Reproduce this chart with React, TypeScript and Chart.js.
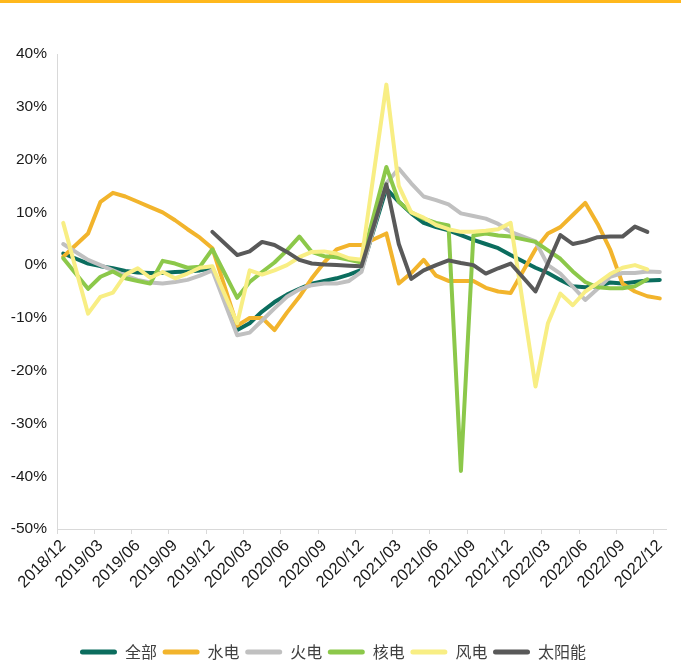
import React, { useEffect, useRef } from 'react';
import { Chart, registerables } from 'chart.js';

Chart.register(...registerables);

const months = [
  '2018/12', '2019/01', '2019/02', '2019/03', '2019/04', '2019/05', '2019/06', '2019/07', '2019/08', '2019/09', '2019/10', '2019/11',
  '2019/12', '2020/01', '2020/02', '2020/03', '2020/04', '2020/05', '2020/06', '2020/07', '2020/08', '2020/09', '2020/10', '2020/11',
  '2020/12', '2021/01', '2021/02', '2021/03', '2021/04', '2021/05', '2021/06', '2021/07', '2021/08', '2021/09', '2021/10', '2021/11',
  '2021/12', '2022/01', '2022/02', '2022/03', '2022/04', '2022/05', '2022/06', '2022/07', '2022/08', '2022/09', '2022/10', '2022/11',
  '2022/12',
];

// growth rates (%), null = month not published (Jan merged into Feb)
const total = [2.2, null, 0.3, -0.2, -0.6, -1.1, -1.4, -1.5, -1.5, -1.3, -1.2, -1.0, -0.6, null, -12.3, -11, -8.8, -7, -5.6, -4.5, -3.5, -3.0, -2.5, -1.8, -0.9, null, 14.5, 12, 9.8, 8, 7.2, 6.6, 5.7, 4.8, 4.0, 3.2, 1.9, null, -0.5, -1.5, -2.8, -4.0, -4.2, -4.0, -3.3, -3.5, -3.2, -2.9, -2.8];
const hydro = [1.6, null, 6, 12, 13.7, 13, 12, 11, 10, 8.5, 6.8, 5.2, 3.2, null, -11.5, -10, -10, -12.3, -9, -6, -2.5, 0.5, 3, 3.8, 3.8, null, 6, -3.5, -1.5, 1, -2, -3, -3, -3, -4.3, -5, -5.3, null, 3, 6, 7.2, 9.5, 11.8, 7.8, 3, -3.5, -5, -5.9, -6.3];
const thermal = [4, null, 1, 0, -1, -2, -2.8, -3.3, -3.5, -3.2, -2.8, -2, -1, null, -13.3, -12.8, -10.5, -8.2, -6, -4.6, -3.8, -3.5, -3.5, -3, -1.3, null, 15.5, 18.3, 15.5, 13, 12.3, 11.5, 9.8, 9.3, 8.8, 7.8, 6.3, null, 4.5, 0, -1.6, -4.1, -6.6, -4.5, -2.2, -1.5, -1.5, -1.2, -1.3];
const nuclear = [1.3, null, -4.5, -2.2, -1.2, -2.5, -3.0, -3.5, 0.8, 0.3, -0.5, -0.3, 3, null, -6.2, -3.2, -1.3, 0.5, 2.8, 5.4, 2.5, 1.7, 1.5, 1.0, 0.5, null, 18.6, 12, 10, 8.8, 8, 7.5, -39, 5.6, 6, 5.6, 5.4, null, 4.4, 2.8, 1.2, -1.2, -3.2, -4.2, -4.4, -4.4, -4, -2.7, null];
const wind = [8, null, -9.2, -6, -5.2, -1.8, -0.6, -2.4, -1.3, -2.5, -1.6, -0.5, -0.2, null, -11, -1, -1.8, -1, 0, 1.5, 2.5, 2.6, 2.2, 1.3, 1.0, null, 34.2, 15, 10, 9, 7.6, 6.8, 6.3, 6.3, 6.5, 6.8, 8, null, -23, -11, -5.4, -7.6, -5, -3.4, -1.7, -0.5, 0, -0.8, null];
const solar = [null, null, null, null, null, null, null, null, null, null, null, null, 6.3, null, 1.9, 2.6, 4.4, 3.8, 2.5, 1.0, 0.3, 0.1, 0, -0.1, -0.2, null, 15.3, 4, -2.6, -1, 0, 0.9, 0.4, 0, -1.6, -0.6, 0.3, null, -5, 0.3, 5.7, 4, 4.5, 5.3, 5.4, 5.4, 7.3, 6.3, null];

const seriesNames = ['全部', '水电', '火电', '核电', '风电', '太阳能'];
const seriesData = [total, hydro, thermal, nuclear, wind, solar];
const seriesColors = ['#0b6d5e', '#f2b42c', '#c0c0c0', '#8cc84a', '#f8ee84', '#595959'];

const yMin = -50;
const yMax = 40;
const yStep = 10;
const tickEvery = 3;

const xTickFont = { family: "'Liberation Sans', Arial, sans-serif", size: 16.5 };
const yTickFont = { family: "'Liberation Sans', Arial, sans-serif", size: 15.5 };

export default function App() {
  const ref = useRef<HTMLCanvasElement>(null);

  useEffect(() => {
    if (!ref.current) return;
    const n = seriesNames.length;
    const chart = new Chart(ref.current, {
      type: 'line',
      data: {
        labels: months,
        datasets: seriesNames.map((name, i) => ({
          label: name,
          data: seriesData[i],
          borderColor: seriesColors[i],
          backgroundColor: seriesColors[i],
          borderWidth: 4,
          pointRadius: 0,
          pointHoverRadius: 0,
          tension: 0,
          spanGaps: true,
          fill: false,
          order: n - i,
          borderJoinStyle: 'round' as const,
          borderCapStyle: 'round' as const,
        })),
      },
      options: {
        animation: false,
        responsive: false,
        devicePixelRatio: 1,
        layout: { padding: { top: 54, right: 15, left: 0, bottom: 0 } },
        scales: {
          x: {
            offset: true,
            grid: {
              display: true,
              drawOnChartArea: false,
              drawTicks: true,
              tickLength: 5,
              offset: true,
              color: (ctx: any) => (typeof ctx.index === 'number' && ctx.index % tickEvery === 0 ? '#d9d9d9' : 'rgba(0,0,0,0)'),
            },
            border: { display: true, color: '#d9d9d9', width: 1 },
            ticks: {
              autoSkip: false,
              minRotation: 45,
              maxRotation: 45,
              padding: 2,
              font: xTickFont,
              color: '#1a1a1a',
              callback: function (this: any, value: any, index: number) {
                return index % tickEvery === 0 ? this.getLabelForValue(value) : '';
              },
            },
            afterFit: (axis: any) => {
              axis.height = 109.4;
            },
          },
          y: {
            min: yMin,
            max: yMax,
            grid: { display: false, drawTicks: false },
            border: { display: true, color: '#d9d9d9', width: 1 },
            ticks: {
              stepSize: yStep,
              padding: 10,
              font: yTickFont,
              color: '#1a1a1a',
              callback: (v: any) => `${v}%`,
            },
            afterFit: (axis: any) => {
              axis.width = 57;
            },
          },
        },
        plugins: {
          tooltip: { enabled: false },
          legend: {
            position: 'bottom',
            labels: {
              boxWidth: 37,
              boxHeight: 5,
              padding: 5.6,
              useBorderRadius: true,
              borderRadius: 2.5,
              color: '#404040',
              font: { family: "'Noto Sans CJK SC', 'Noto Sans', sans-serif", size: 16 },
              sort: (a: any, b: any) => a.datasetIndex - b.datasetIndex,
              generateLabels: (c: any) => {
                const base = (Chart.defaults.plugins.legend.labels as any).generateLabels(c);
                return base.map((l: any) => ({
                  ...l,
                  fillStyle: seriesColors[l.datasetIndex],
                  strokeStyle: seriesColors[l.datasetIndex],
                  lineWidth: 0,
                }));
              },
            },
          },
        },
      },
    } as any);
    return () => chart.destroy();
  }, []);

  return (
    <div style={{ position: 'fixed', left: 0, top: 0, width: 681, height: 661, overflow: 'hidden', background: '#fff' }}>
      <div style={{ position: 'absolute', left: 0, top: 0, width: 681, height: 3, background: '#ffb81c' }} />
      <canvas ref={ref} width={681} height={670} style={{ position: 'absolute', left: 0, top: 0, width: 681, height: 670 }} />
    </div>
  );
}
